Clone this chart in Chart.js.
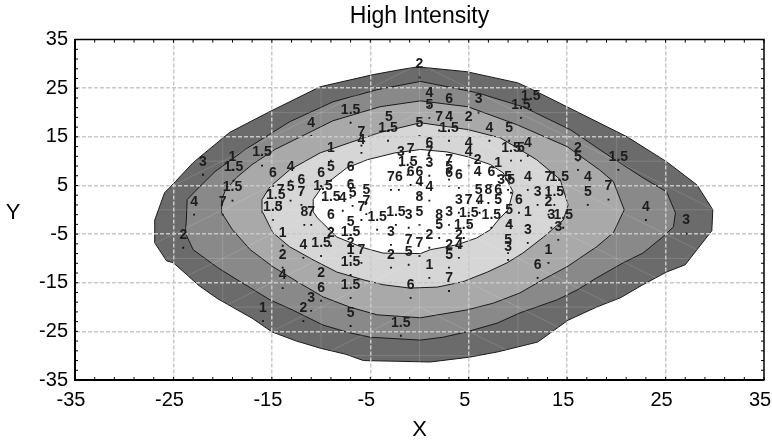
<!DOCTYPE html>
<html><head><meta charset="utf-8">
<script src="https://cdn.jsdelivr.net/npm/chart.js@4.4.0/dist/chart.umd.min.js"></script>
<style>html,body{margin:0;padding:0;background:#fff;}#wrap{width:772px;height:443px;position:relative;}</style>
</head><body><div id="wrap"><canvas id="c"></canvas></div>
<script>
// ---- data ----
const xTickValues = [-35,-25,-15,-5,5,15,25,35];
const yTickValues = [-35,-25,-15,-5,5,15,25,35];
const meshValues = [-30,-20,-10,0,10,20,30];

const contour1 = [[-26.9,-2.1],[-25.9,3.5],[-24.8,5.8],[-23.0,9.7],[-19.3,15.9],[-15.2,20.2],[-10.1,25.3],[-4.7,27.8],[-2.0,28.8],[-0.2,29.4],[4.8,28.4],[10.0,26.1],[11.5,24.7],[21.1,15.0],[25.1,9.9],[28.2,5.1],[29.8,0.0],[29.7,-4.3],[27.0,-11.3],[25.1,-12.8],[22.7,-15.4],[20.4,-18.1],[18.0,-20.0],[15.1,-22.7],[12.0,-27.2],[8.0,-29.2],[5.1,-30.3],[1.1,-31.3],[-5.7,-31.0],[-7.5,-29.7],[-10.0,-28.5],[-12.5,-27.0],[-15.0,-25.1],[-17.0,-22.3],[-18.5,-20.6],[-20.5,-18.3],[-22.4,-15.6],[-25.0,-10.9],[-25.7,-10.5],[-26.9,-6.8]];
const contour2 = [[-23.7,-2.5],[-23.6,2.1],[-22.8,3.8],[-20.8,7.8],[-17.7,12.4],[-13.2,18.1],[-8.8,22.2],[-4.3,24.7],[0.1,26.4],[5.8,24.1],[10.5,21.2],[15.3,16.5],[19.4,10.9],[22.7,6.6],[25.1,3.7],[26.0,-0.6],[25.8,-3.5],[24.7,-5.6],[22.7,-8.9],[20.7,-10.9],[18.0,-14.0],[16.0,-16.5],[14.0,-18.5],[10.2,-21.2],[7.9,-23.3],[4.8,-25.1],[2.4,-26.2],[0.1,-26.8],[-5.0,-26.2],[-7.1,-25.3],[-9.8,-23.7],[-12.9,-20.6],[-15.2,-18.5],[-18.2,-14.8],[-20.5,-11.9],[-23.0,-8.2],[-23.8,-4.7]];
const contour3 = [[-20.1,-0.6],[-20.1,2.1],[-19.7,4.1],[-18.6,6.6],[-17.0,9.3],[-14.7,12.4],[-12.1,15.0],[-8.8,18.3],[-4.0,21.2],[0.1,22.4],[4.9,21.2],[9.9,17.5],[15.0,13.0],[18.3,8.2],[19.7,5.8],[20.8,0.0],[19.7,-4.7],[18.0,-7.6],[15.0,-11.7],[12.5,-14.4],[10.2,-17.1],[7.5,-19.2],[4.8,-20.6],[0.1,-22.2],[-4.3,-21.6],[-7.1,-20.0],[-9.8,-17.9],[-12.4,-14.8],[-14.9,-11.7],[-17.2,-8.2],[-19.0,-4.1]];
const contour4 = [[-15.9,-0.6],[-16.0,2.1],[-15.2,4.7],[-13.2,8.2],[-10.1,11.7],[-7.1,13.8],[-4.0,15.9],[0.1,17.9],[4.9,16.5],[8.2,14.8],[10.2,12.4],[11.9,10.3],[14.3,6.2],[15.1,1.0],[14.6,-2.1],[12.6,-5.6],[10.5,-8.9],[8.9,-10.9],[6.9,-12.8],[4.4,-14.8],[1.8,-15.9],[-1.0,-16.1],[-3.7,-15.4],[-5.7,-14.4],[-8.4,-12.8],[-10.8,-10.3],[-13.2,-7.6],[-14.9,-4.7]];
const contour5 = [[-10.8,-0.4],[-10.8,2.1],[-9.9,4.7],[-7.4,8.6],[-5.3,10.3],[-2.5,11.7],[0.1,12.4],[2.8,11.9],[4.9,10.9],[7.2,9.3],[8.5,7.6],[9.5,3.7],[9.0,0.0],[8.0,-2.1],[7.2,-4.1],[5.8,-5.8],[3.8,-7.2],[1.1,-8.2],[0.1,-9.0],[-3.7,-8.9],[-5.7,-7.8],[-8.4,-5.6],[-10.4,-1.6]];

const pointX = [0.0,1.0,1.0,3.0,6.0,10.3,11.3,-3.1,-3.2,0.0,2.0,3.0,3.0,5.0,7.1,9.1,-7.0,-11.0,-5.9,-5.9,-9.0,-22.0,-19.0,-18.9,-16.0,-14.9,-13.1,-10.0,-9.0,-7.0,-19.0,-22.9,-20.0,-24.0,-14.1,-13.1,-12.0,-12.0,-14.9,-14.6,-9.0,-7.8,-6.8,-7.0,-11.7,-11.0,-9.0,-7.0,-5.9,-4.3,-2.4,-1.1,0.0,-13.9,-11.8,-10.0,-9.0,-7.0,-7.0,-5.9,-7.0,-7.0,-2.9,-2.9,-1.1,0.0,-1.1,1.0,3.0,4.0,4.0,3.0,1.0,3.0,-0.9,-13.9,-13.9,-10.0,-10.0,-7.0,-11.0,-15.9,-11.8,-7.0,-1.9,2.0,3.0,5.0,7.3,9.1,11.0,13.4,14.6,13.1,2.0,4.5,9.1,11.0,14.1,9.0,9.0,13.1,12.0,23.0,27.1,16.1,16.1,20.2,17.1,19.2,17.1,9.0,11.0,13.1,14.2,12.0,13.7,10.1,9.3,11.0,10.3,5.0,5.0,1.0,-1.9,-0.9,1.0,-1.2,1.0,3.0,3.0,3.0,4.0,5.9,5.9,8.0,7.3,8.3,9.3,-2.9,-2.1,-0.9,0.0,0.0,1.0,0.0,4.0,5.0,6.1,6.0,7.0,8.0,8.0,-5.4,-5.4,-9.8];
const pointY = [27.2,21.4,18.9,20.0,20.0,18.9,20.6,16.3,14.2,15.2,16.3,16.3,14.2,16.3,14.2,14.2,17.9,15.2,13.2,11.7,10.1,7.2,8.2,6.0,9.1,4.9,6.0,4.9,6.0,6.0,1.9,-1.0,-1.0,-7.8,1.4,1.9,1.0,3.5,-2.1,0.4,0.0,-0.2,0.8,2.5,-3.1,-3.1,-3.7,-5.2,-2.1,-4.1,-3.1,-3.7,-3.1,-7.4,-9.9,-9.5,-7.4,-7.2,-9.5,-10.9,-10.9,-13.4,-7.2,-11.9,-8.9,-9.5,-11.3,-7.8,-9.9,-9.9,-7.8,-11.9,-14.0,-16.7,-18.1,-11.9,-16.1,-15.7,-18.7,-18.1,-20.8,-22.9,-22.9,-23.9,-25.9,-3.7,-3.1,-3.3,-3.7,-2.7,-3.1,-3.7,-3.7,-1.0,-5.8,-5.8,-5.8,-6.8,-6.2,-8.9,-10.3,-10.9,-14.0,-2.1,-4.9,10.1,8.2,8.2,4.1,2.1,1.0,4.1,4.1,4.1,4.1,1.0,1.0,-0.6,10.1,11.1,10.1,11.1,9.1,11.1,9.1,9.7,9.1,7.2,7.0,7.6,6.2,4.9,4.5,7.6,5.1,7.0,5.1,3.5,3.5,4.1,4.1,5.1,5.1,3.1,1.9,0.0,-0.6,-0.6,-0.6,1.4,1.4,1.4,-0.6,1.4,-0.9,2.1];
const pointLabel = ["2","4","5","6","3","1.5","1.5","5","1.5","5","7","4","1.5","2","4","5","1.5","4","7","4","1","3","1","1.5","1.5","6","4","6","5","6","1.5","4","7","2","7","5","7","6","1.5","1.5","1.5","4","5","6","8","7","6","5","7","1.5","1.5","3","5","1","4","1.5","2","1.5","2","7","1","1.5","3","2","7","7","5","2","2","4","2","5","1","7","6","2","4","2","6","1.5","3","1","2","5","1.5","8","3","1.5","1.5","5","1","3","1.5","2","5","1.5","4","3","3","5","3","1","6","4","3","2","5","1.5","4","7","5","5","4","7","1.5","3","1.5","6","1.5","4","5","4","4","6","3","7","7","1.5","3","7","5","6","6","2","4","1","6","3","5","7","6","6","6","4","4","8","3","7","4","5","8","6","5","5","7","1.5"];

// ---- styles ----
const bandColors = ['#6b6b6b','#898989','#a9a9a9','#d6d6d6','#ffffff'];
const FONT = '"Liberation Sans", Arial, sans-serif';

const polys = [contour1, contour2, contour3, contour4, contour5];
const datasets = polys.map((p, i) => ({
  type: 'line',
  data: p.concat([p[0]]).map(([x, y]) => ({x, y})),
  fill: 'shape',
  backgroundColor: bandColors[i],
  borderColor: '#1a1a1a',
  borderWidth: 1,
  pointRadius: 0,
  tension: 0,
  order: 10 - i
}));
datasets.push({
  type: 'line',
  showLine: false,
  data: pointX.map((x, i) => ({x, y: pointY[i]})),
  pointStyle: 'rect',
  pointRadius: 1.3,
  backgroundColor: '#111',
  borderColor: '#111',
  borderWidth: 0,
  order: 0
});
const pointsIndex = datasets.length - 1;

const decor = {
  id: 'decor',
  afterDatasetsDraw(chart) {
    const {ctx, chartArea: a, scales: {x, y}} = chart;
    ctx.save();
    ctx.beginPath(); ctx.rect(a.left, a.top, a.right - a.left, a.bottom - a.top); ctx.clip();
    ctx.strokeStyle = 'rgba(255,255,255,0.14)';
    ctx.lineWidth = 1;
    ctx.beginPath();
    meshValues.forEach(v => {
      const px = x.getPixelForValue(v), py = y.getPixelForValue(v);
      ctx.moveTo(px, a.top); ctx.lineTo(px, a.bottom);
      ctx.moveTo(a.left, py); ctx.lineTo(a.right, py);
    });
    for (let i = 0; i < meshValues.length - 1; i++) {
      for (let j = 0; j < meshValues.length - 1; j++) {
        const x0 = meshValues[i], x1 = meshValues[i + 1], y0 = meshValues[j], y1 = meshValues[j + 1];
        if (x1 <= 0) {
          ctx.moveTo(x.getPixelForValue(x0), y.getPixelForValue(y0));
          ctx.lineTo(x.getPixelForValue(x1), y.getPixelForValue(y1));
        } else {
          ctx.moveTo(x.getPixelForValue(x0), y.getPixelForValue(y1));
          ctx.lineTo(x.getPixelForValue(x1), y.getPixelForValue(y0));
        }
      }
    }
    ctx.stroke();
    ctx.restore();
  },
  afterDraw(chart) {
    const {ctx, chartArea: a, scales: {x, y}} = chart;
    ctx.save();
    // point labels
    const meta = chart.getDatasetMeta(pointsIndex);
    ctx.font = 'bold 14px ' + FONT;
    ctx.fillStyle = '#1c1c1c';
    ctx.textAlign = 'center';
    ctx.textBaseline = 'middle';
    meta.data.forEach((el, i) => ctx.fillText(pointLabel[i], el.x, el.y - 13));
    // frame top/right
    ctx.strokeStyle = '#000';
    ctx.lineWidth = 1.5;
    ctx.beginPath();
    ctx.moveTo(a.left, a.top); ctx.lineTo(a.right, a.top); ctx.lineTo(a.right, a.bottom);
    ctx.stroke();
    // minor ticks (inward)
    ctx.lineWidth = 1;
    ctx.beginPath();
    for (let v = -35; v <= 35; v += 2) {
      const px = x.getPixelForValue(v), py = y.getPixelForValue(v);
      ctx.moveTo(px, a.top); ctx.lineTo(px, a.top + 3);
      ctx.moveTo(px, a.bottom); ctx.lineTo(px, a.bottom - 3);
      ctx.moveTo(a.left, py); ctx.lineTo(a.left + 3, py);
      ctx.moveTo(a.right, py); ctx.lineTo(a.right - 3, py);
    }
    ctx.stroke();
    // Y axis label (upright)
    ctx.font = '22px ' + FONT;
    ctx.fillStyle = '#000';
    ctx.textAlign = 'center';
    ctx.textBaseline = 'middle';
    ctx.fillText('Y', 13, (a.top + a.bottom) / 2 + 3);
    ctx.restore();
  }
};

const gridColor = ctx => (ctx.tick && Math.abs(ctx.tick.value) === 35) ? 'rgba(0,0,0,0)' : '#c9c9c9';

new Chart(document.getElementById('c'), {
  type: 'line',
  data: {datasets},
  options: {
    responsive: true,
    maintainAspectRatio: false,
    animation: false,
    events: [],
    layout: {padding: {left: 0, right: 8, top: 0, bottom: 0}},
    plugins: {
      legend: {display: false},
      tooltip: {enabled: false},
      title: {display: true, fullSize: false, text: 'High Intensity', color: '#000',
        font: {family: FONT, size: 23, weight: 'normal'}, padding: {top: 3, bottom: 9}}
    },
    scales: {
      x: {
        type: 'linear', min: -35, max: 35, position: 'bottom',
        afterBuildTicks: s => { s.ticks = xTickValues.map(v => ({value: v})); },
        afterFit: s => { s.height = 63; s.paddingRight = 0; s.paddingLeft = 0; },
        ticks: {color: '#000', font: {family: FONT, size: 20}, padding: 8, labelOffset: -4, autoSkip: false, maxRotation: 0},
        grid: {color: gridColor, lineWidth: 1.5, drawTicks: false, z: 1},
        border: {display: true, color: '#000', width: 2, dash: [4, 2], z: 2},
        title: {display: true, text: 'X', color: '#000', font: {family: FONT, size: 22}, padding: {top: 0, bottom: 0}}
      },
      y: {
        type: 'linear', min: -35, max: 35, position: 'left',
        afterBuildTicks: s => { s.ticks = yTickValues.map(v => ({value: v})); },
        afterFit: s => { s.width = 75; },
        ticks: {color: '#000', font: {family: FONT, size: 20}, padding: 7, autoSkip: false},
        grid: {color: gridColor, lineWidth: 1.5, drawTicks: false, z: 1},
        border: {display: true, color: '#000', width: 2, dash: [4, 2], z: 2}
      }
    }
  },
  plugins: [decor]
});
</script>
</body></html>
